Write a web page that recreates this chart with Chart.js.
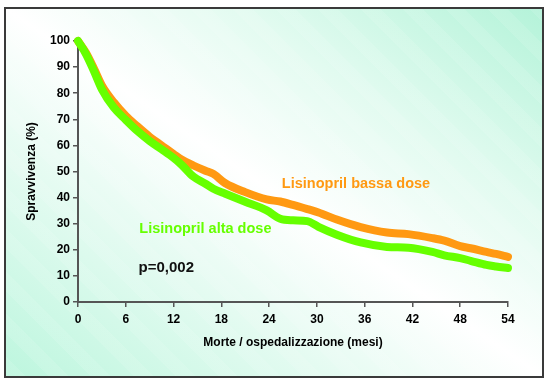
<!DOCTYPE html>
<html>
<head>
<meta charset="utf-8">
<script src="https://cdn.jsdelivr.net/npm/chart.js@4"></script>
<style>
  html, body { margin: 0; padding: 0; background: #ffffff; }
  #wrap { position: relative; width: 550px; height: 386px; overflow: hidden; }
  #frame {
    position: absolute; left: 4px; top: 7px; width: 536px; height: 367px;
    border: 2px solid #3a3a3a;
    background:
      repeating-linear-gradient(45deg, rgba(255,255,255,0.10) 0px, rgba(255,255,255,0.10) 14px, rgba(255,255,255,0) 14px, rgba(255,255,255,0) 30px),
      linear-gradient(to top right, #bdf6de 0%, #e4fbf1 30%, #ffffff 50%, #e2fbf0 72%, #b4f3d9 100%);
  }
  #c { position: absolute; left: 0; top: 0; }
</style>
</head>
<body>
<div id="wrap">
  <div id="frame"></div>
  <canvas id="c" width="550" height="386"></canvas>
</div>
<script>
// ---- data ----
const months = [0, 1, 2, 3, 4.5, 6, 7.5, 9, 10.5, 12, 13, 14.5, 16, 17, 18.5, 21, 23.7, 25.4, 27, 28.8, 30.2, 32.5, 35.5, 38.8, 41.5, 44.5, 46, 48, 49.3, 51.3, 52.5, 54];
const bassaDose = [100, 95.5, 89.5, 83, 76.5, 71.3, 67.2, 63.3, 60, 56.7, 54.6, 52.3, 50.3, 49.1, 45.5, 42.1, 39.3, 38.5, 37.2, 35.6, 34.3, 31.6, 28.7, 26.6, 26.0, 24.5, 23.5, 21.4, 20.6, 19.2, 18.4, 17.3];
const altaDose  = [100, 95, 88.5, 81.5, 74.5, 69.8, 65.4, 61.7, 58.5, 55.2, 52.6, 48, 45.3, 43.4, 41.5, 38.4, 35.1, 31.9, 31.3, 31.0, 28.8, 25.8, 22.8, 21.1, 20.8, 19.2, 17.9, 16.8, 15.8, 14.2, 13.6, 13.0];
const seriesNames = ['Lisinopril alta dose', 'Lisinopril bassa dose'];
const xTicks = [0, 6, 12, 18, 24, 30, 36, 42, 48, 54];
const yTicks = [0, 10, 20, 30, 40, 50, 60, 70, 80, 90, 100];
const xTitle = 'Morte / ospedalizzazione (mesi)';
const yTitle = 'Spravvivenza (%)';
const pValueText = 'p=0,002';
// label anchors (month, value) for in-chart texts
const labelBassaAt = [25.6, 45.4];
const labelAltaAt = [7.7, 28.1];
const labelPAt = [7.6, 13.0];

const ORANGE = '#ff9912';
const GREEN = '#66ff00';
const FONT = "'Liberation Sans', Arial, sans-serif";

const toPts = (vals) => vals.map((v, i) => ({ x: months[i], y: v }));

const textPlugin = {
  id: 'inlineText',
  afterDatasetsDraw(chart) {
    const { ctx, scales: { x, y } } = chart;
    ctx.save();
    ctx.textBaseline = 'middle';
    ctx.textAlign = 'left';
    ctx.font = 'bold 14.5px ' + FONT;
    ctx.fillStyle = ORANGE;
    ctx.fillText(seriesNames[1], x.getPixelForValue(labelBassaAt[0]), y.getPixelForValue(labelBassaAt[1]));
    ctx.fillStyle = GREEN;
    ctx.fillText(seriesNames[0], x.getPixelForValue(labelAltaAt[0]), y.getPixelForValue(labelAltaAt[1]));
    ctx.fillStyle = '#111111';
    ctx.font = 'bold 15px ' + FONT;
    ctx.fillText(pValueText, x.getPixelForValue(labelPAt[0]), y.getPixelForValue(labelPAt[1]));
    ctx.restore();
  }
};

new Chart(document.getElementById('c'), {
  type: 'line',
  data: {
    datasets: [
      { label: seriesNames[0], data: toPts(altaDose), borderColor: GREEN, order: 0 },
      { label: seriesNames[1], data: toPts(bassaDose), borderColor: ORANGE, order: 1 }
    ]
  },
  options: {
    responsive: false,
    animation: false,
    devicePixelRatio: 1,
    layout: { padding: { left: 0, top: 41, right: 42, bottom: 0 } },
    elements: {
      point: { radius: 0, hoverRadius: 0 },
      line: { borderWidth: 8, tension: 0.3, cubicInterpolationMode: 'monotone', borderCapStyle: 'round', borderJoinStyle: 'round', fill: false }
    },
    datasets: { line: { clip: false } },
    plugins: { legend: { display: false }, tooltip: { enabled: false } },
    scales: {
      x: {
        type: 'linear', min: 0, max: 54,
        afterBuildTicks: (s) => { s.ticks = xTicks.map(v => ({ value: v })); },
        afterFit: (s) => { s.height = 84; },
        ticks: { color: '#000', font: { family: FONT, weight: 'bold', size: 12 }, padding: 5, maxRotation: 0 },
        grid: { drawOnChartArea: false, drawTicks: true, tickLength: 5, color: '#555', lineWidth: 1.5 },
        border: { display: true, color: '#555', width: 2 },
        title: { display: true, text: xTitle, color: '#000', font: { family: FONT, weight: 'bold', size: 12 }, padding: { top: 0, bottom: 36 } }
      },
      y: {
        type: 'linear', min: 0, max: 100,
        afterBuildTicks: (s) => { s.ticks = yTicks.map(v => ({ value: v })); },
        afterFit: (s) => { s.width = 78; },
        ticks: { color: '#000', font: { family: FONT, weight: 'bold', size: 12 }, padding: 3 },
        grid: { drawOnChartArea: false, drawTicks: true, tickLength: 5, color: '#555', lineWidth: 1.5 },
        border: { display: true, color: '#555', width: 2 },
        title: { display: true, text: yTitle, color: '#000', font: { family: FONT, weight: 'bold', size: 12 }, padding: { top: 24, bottom: 0 } }
      }
    }
  },
  plugins: [textPlugin]
});
</script>
</body>
</html>
